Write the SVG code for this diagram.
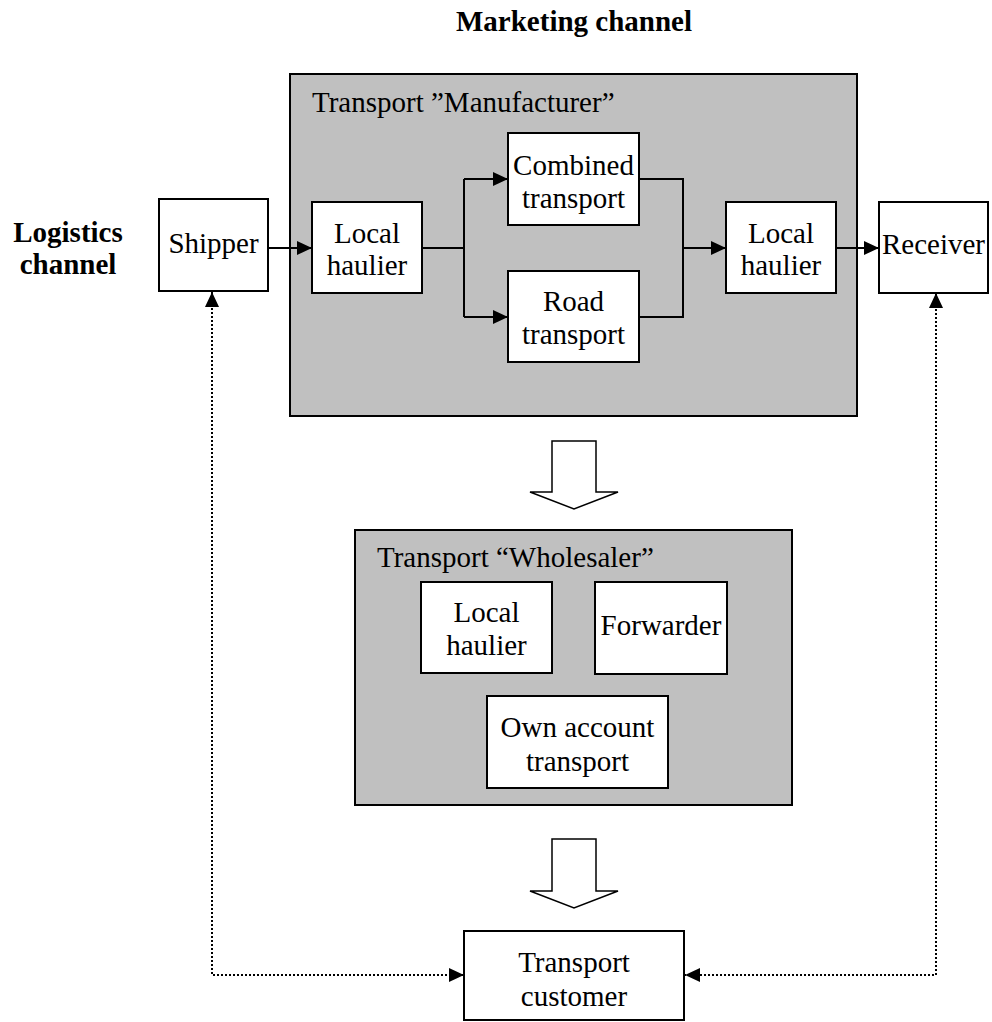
<svg xmlns="http://www.w3.org/2000/svg" width="992" height="1022" viewBox="0 0 992 1022">
  <style>
    text { font-family: "Liberation Serif", "Times New Roman", serif; font-size: 29px; fill: #000; }
    .c { text-anchor: middle; }
    .b { font-weight: bold; }
    .box { fill: #fff; stroke: #000; stroke-width: 2; }
    .group { fill: #c0c0c0; stroke: #000; stroke-width: 2; }
    .flow { fill: none; stroke: #000; stroke-width: 2; }
    .dot { fill: none; stroke: #000; stroke-width: 2; stroke-dasharray: 2 2; }
    .big { fill: #fff; stroke: #000; stroke-width: 1.5; }
  </style>
  <defs>
    <marker id="head" viewBox="0 0 15 14" refX="15" refY="7" markerWidth="15" markerHeight="14" markerUnits="userSpaceOnUse" orient="auto-start-reverse">
      <path d="M0,0 L15,7 L0,14 Z" fill="#000"/>
    </marker>
  </defs>

  <rect width="992" height="1022" fill="#fff"/>

  <!-- axis labels -->
  <text class="c b" x="574" y="31">Marketing channel</text>
  <text class="c b" x="68" y="242">Logistics</text>
  <text class="c b" x="68" y="274">channel</text>

  <!-- container groups -->
  <g id="manufacturer">
    <rect class="group" x="290" y="74" width="567" height="342"/>
    <text x="312" y="112">Transport ”Manufacturer”</text>
  </g>
  <g id="wholesaler">
    <rect class="group" x="355" y="530" width="437" height="275"/>
    <text x="377" y="567">Transport “Wholesaler”</text>
  </g>

  <!-- connectors -->
  <g id="connectors">
    <path class="flow" d="M268,248 H312" marker-end="url(#head)"/>
    <path class="flow" d="M422,248 H464"/>
    <path class="flow" d="M464,179 V317"/>
    <path class="flow" d="M464,179 H508" marker-end="url(#head)"/>
    <path class="flow" d="M464,317 H508" marker-end="url(#head)"/>
    <path class="flow" d="M639,179 H683 V317 H639"/>
    <path class="flow" d="M683,248 H726" marker-end="url(#head)"/>
    <path class="flow" d="M836,248 H879" marker-end="url(#head)"/>
    <path class="dot" d="M212,292 V975 H464" marker-start="url(#head)" marker-end="url(#head)"/>
    <path class="dot" d="M936,293 V975 H685" marker-start="url(#head)" marker-end="url(#head)"/>
    <!-- block arrows between tiers -->
    <path class="big" d="M552,441 H596 V492 H618 L574,509 L530,492 H552 Z"/>
    <path class="big" d="M552,839 H596 V891 H618 L574,908 L530,891 H552 Z"/>
  </g>

  <!-- nodes -->
  <g id="shipper">
    <rect class="box" x="159" y="199" width="109" height="92"/>
    <text class="c" x="213.5" y="253">Shipper</text>
  </g>
  <g id="local-haulier-1">
    <rect class="box" x="312" y="202" width="110" height="91"/>
    <text class="c" x="367" y="243">Local</text>
    <text class="c" x="367" y="275">haulier</text>
  </g>
  <g id="combined-transport">
    <rect class="box" x="508" y="133" width="131" height="92"/>
    <text class="c" x="573.5" y="175">Combined</text>
    <text class="c" x="573.5" y="208">transport</text>
  </g>
  <g id="road-transport">
    <rect class="box" x="508" y="271" width="131" height="91"/>
    <text class="c" x="573.5" y="311">Road</text>
    <text class="c" x="573.5" y="344">transport</text>
  </g>
  <g id="local-haulier-2">
    <rect class="box" x="726" y="202" width="110" height="91"/>
    <text class="c" x="781" y="243">Local</text>
    <text class="c" x="781" y="275">haulier</text>
  </g>
  <g id="receiver">
    <rect class="box" x="879" y="202" width="109" height="91"/>
    <text class="c" x="933.5" y="254">Receiver</text>
  </g>
  <g id="local-haulier-3">
    <rect class="box" x="421" y="582" width="131" height="91"/>
    <text class="c" x="486.5" y="622">Local</text>
    <text class="c" x="486.5" y="655">haulier</text>
  </g>
  <g id="forwarder">
    <rect class="box" x="595" y="582" width="132" height="92"/>
    <text class="c" x="661" y="635">Forwarder</text>
  </g>
  <g id="own-account">
    <rect class="box" x="487" y="696" width="181" height="92"/>
    <text class="c" x="577.5" y="737">Own account</text>
    <text class="c" x="577.5" y="771">transport</text>
  </g>
  <g id="transport-customer">
    <rect class="box" x="464" y="931" width="220" height="89"/>
    <text class="c" x="574" y="972">Transport</text>
    <text class="c" x="574" y="1006">customer</text>
  </g>
</svg>
